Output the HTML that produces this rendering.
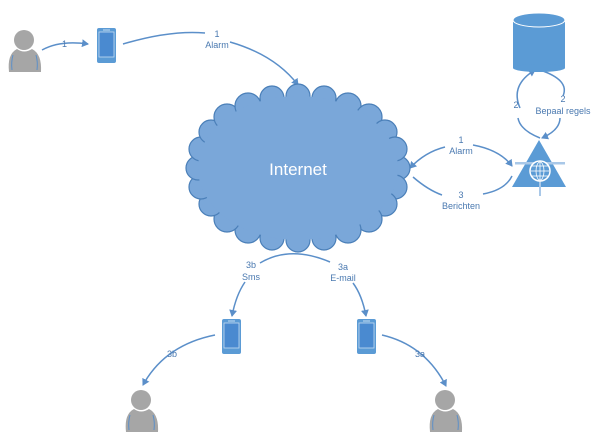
<!DOCTYPE html>
<html><head><style>body{margin:0;background:#fff}svg{display:block}text{font-family:"Liberation Sans",sans-serif;fill:#4a79b0;font-size:9px}</style></head><body>
<svg width="600" height="437" viewBox="0 0 600 437">
<defs>
<marker id="a" markerWidth="8" markerHeight="8" refX="6" refY="4" orient="auto" markerUnits="userSpaceOnUse"><path d="M0,0 L7,4 L0,8 Z" fill="#5b8fc9"/></marker>
<g id="p"><circle cx="17" cy="12" r="10" fill="#a6a6a6"/><path d="M2,44 Q0,26 10,21 Q17,26 25,21 Q35,26 34,44 Z" fill="#a6a6a6"/><path d="M6,27 Q4,34 5,42 M29,27 Q31,34 30,42" stroke="#5b8fc9" fill="none" stroke-width="1"/></g>
<g id="ph"><rect x="0" y="0" width="19" height="35" rx="2" fill="#5b9bd5"/><rect x="2" y="4" width="15" height="25" fill="#4a8ad0" stroke="#c5dcf2" stroke-width="0.8"/><rect x="6" y="1.5" width="7" height="1" fill="#c5dcf2"/></g>
</defs>
<g fill="none" stroke="#5b8fc9" stroke-width="1.5">
<path d="M42,50 Q60,40 88,44" marker-end="url(#a)"/>
<path d="M123,44 Q170,30 205,33"/>
<path d="M230,42 Q275,55 298,85" marker-end="url(#a)"/>
<path d="M445,147 Q425,152 410,168" marker-end="url(#a)"/>
<path d="M473,145 Q500,150 512,166" marker-end="url(#a)"/>
<path d="M413,177 Q428,190 442,195"/>
<path d="M483,194 Q505,190 512,176"/>
<path d="M520,108 Q510,85 535,70" marker-end="url(#a)"/>
<path d="M563,96 Q570,80 540,70"/>
<path d="M518,118 Q520,130 540,138"/>
<path d="M560,118 Q560,130 542,138" marker-end="url(#a)"/>
<path d="M260,263 Q290,245 330,262"/>
<path d="M245,282 Q236,295 232,316" marker-end="url(#a)"/>
<path d="M353,283 Q362,295 366,316" marker-end="url(#a)"/>
<path d="M215,335 Q165,345 143,385" marker-end="url(#a)"/>
<path d="M382,335 Q425,345 446,386" marker-end="url(#a)"/>
</g>
<text x="62" y="47">1</text>
<text x="217" y="37" text-anchor="middle">1</text><text x="217" y="48" text-anchor="middle">Alarm</text>
<text x="461" y="143" text-anchor="middle">1</text><text x="461" y="154" text-anchor="middle">Alarm</text>
<text x="461" y="198" text-anchor="middle">3</text><text x="461" y="209" text-anchor="middle">Berichten</text>
<text x="516" y="108" text-anchor="middle">2</text>
<text x="563" y="102" text-anchor="middle">2</text><text x="563" y="114" text-anchor="middle">Bepaal regels</text>
<text x="251" y="268" text-anchor="middle">3b</text><text x="251" y="280" text-anchor="middle">Sms</text>
<text x="343" y="270" text-anchor="middle">3a</text><text x="343" y="281" text-anchor="middle">E-mail</text>
<text x="172" y="357" text-anchor="middle">3b</text>
<text x="420" y="357" text-anchor="middle">3a</text>
<!-- cloud -->
<g fill="#7aa7d9" stroke="#4a7fb8" stroke-width="1.2">
<circle cx="398" cy="168" r="12"/><circle cx="395" cy="187" r="12"/><circle cx="385" cy="204" r="12"/><circle cx="369" cy="219" r="13"/><circle cx="348" cy="230" r="13"/><circle cx="324" cy="238" r="12"/><circle cx="298" cy="240" r="12"/><circle cx="272" cy="238" r="12"/><circle cx="248" cy="230" r="13"/><circle cx="227" cy="219" r="13"/><circle cx="211" cy="204" r="12"/><circle cx="201" cy="187" r="12"/><circle cx="198" cy="168" r="12"/><circle cx="201" cy="149" r="12"/><circle cx="211" cy="132" r="12"/><circle cx="227" cy="117" r="13"/><circle cx="248" cy="106" r="13"/><circle cx="272" cy="98" r="12"/><circle cx="298" cy="96" r="12"/><circle cx="324" cy="98" r="12"/><circle cx="348" cy="106" r="13"/><circle cx="369" cy="117" r="13"/><circle cx="385" cy="132" r="12"/><circle cx="395" cy="149" r="12"/>
</g>
<ellipse cx="298" cy="168" rx="100" ry="72" fill="#7aa7d9"/>
<text x="298" y="175" text-anchor="middle" style="font-size:17px;fill:#fff">Internet</text>
<use href="#p" x="7" y="28"/>
<use href="#p" x="124" y="388"/>
<use href="#p" x="428" y="388"/>
<use href="#ph" x="97" y="28"/>
<use href="#ph" x="222" y="319"/>
<use href="#ph" x="357" y="319"/>
<!-- database -->
<rect x="513" y="20" width="52" height="48" fill="#5b9bd5"/>
<ellipse cx="539" cy="68" rx="26" ry="4" fill="#5b9bd5"/>
<ellipse cx="539" cy="20" rx="26" ry="7" fill="#5b9bd5" stroke="#fff" stroke-width="1"/>
<!-- triangle -->
<polygon points="539,140 566,187 512,187" fill="#5b9bd5"/>
<rect x="515" y="162" width="50" height="2.5" fill="#a9c8e8"/>
<rect x="539" y="180" width="2" height="16" fill="#a9c8e8"/>
<circle cx="540" cy="171" r="10" fill="#5b9bd5" stroke="#fff" stroke-width="1.5"/>
<g stroke="#fff" stroke-width="0.8" fill="none"><ellipse cx="540" cy="171" rx="4" ry="9"/><line x1="531" y1="171" x2="549" y2="171"/><line x1="540" y1="162" x2="540" y2="180"/><line x1="532" y1="166" x2="548" y2="166"/><line x1="532" y1="176" x2="548" y2="176"/></g>
</svg>
</body></html>
